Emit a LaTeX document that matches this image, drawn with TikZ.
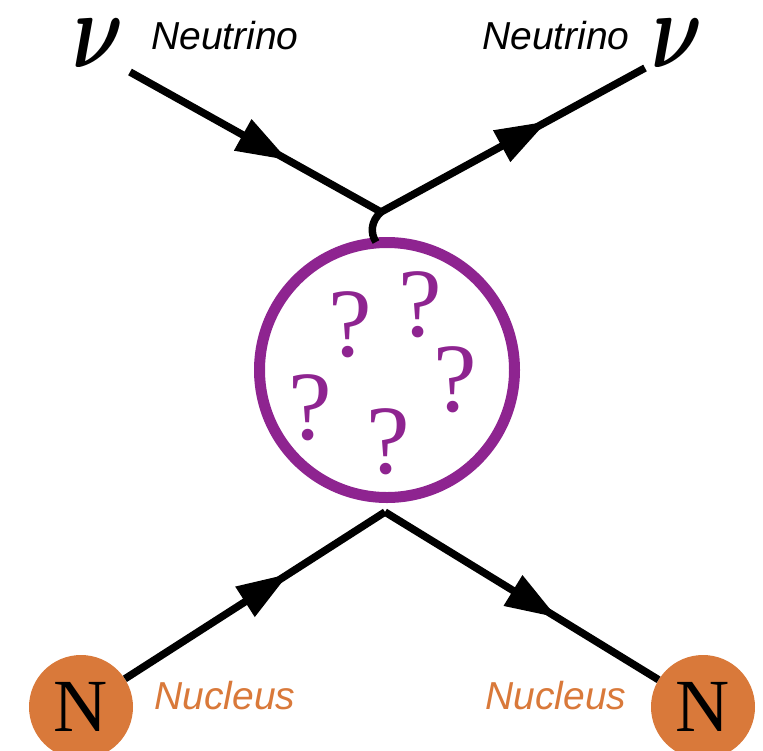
\documentclass[tikz,border=0pt]{standalone}
\usepackage{fontspec}
\usepackage{amsmath}
\usepackage{graphicx}
\setmainfont{Liberation Serif}
\setsansfont{Liberation Sans}
\usetikzlibrary{arrows.meta,decorations.markings}
\definecolor{blobpurple}{RGB}{142,36,144}
\definecolor{nucorange}{RGB}{217,121,58}
\tikzset{
  fermion/.style={line width=7.5pt, postaction={decorate},
    decoration={markings, mark=at position 0.63 with {\arrow{Triangle[length=52pt,width=34pt]}}}},
  plain/.style={line width=7.5pt},
  qmark/.style={text=blobpurple, font=\fontsize{98}{98}\selectfont, inner sep=0pt},
  nucleus/.style={circle, fill=nucorange, minimum size=104pt, inner sep=0pt, font=\fontsize{75}{75}\selectfont},
  lbl/.style={font=\sffamily\itshape\fontsize{39}{39}\selectfont, inner sep=0pt, anchor=base},
  nusym/.style={inner sep=0pt}
}
\newcommand{\bignu}{\scalebox{7.9}[10.9]{$\boldsymbol{\nu}$}}
\begin{document}
\begin{tikzpicture}[x=1pt,y=-1pt]
\useasboundingbox (0,0) rectangle (763,750);
% blob
\node[circle, draw=blobpurple, line width=11pt, minimum size=255pt, inner sep=0pt] (blob) at (387,370) {};
\node[qmark] (q1) at (350,325) {?};
\node[qmark] (q2) at (420,305) {?};
\node[qmark] (q3) at (455,380) {?};
\node[qmark] (q4) at (310,408) {?};
\node[qmark] (q5) at (388,442) {?};
% vertices
\coordinate (vt) at (381,212);
\coordinate (vb) at (385,512);
\coordinate (inl) at (130,72);
\coordinate (outr) at (645,68);
\coordinate (stem) at (376,242);
% nuclei
\node[nucleus] (nl) at (81,707) {N};
\node[nucleus] (nr) at (703,707) {N};
% lines
\draw[fermion] (inl) -- (vt);
\draw[fermion] (vt) -- (outr);
\draw[fermion] (nl) -- (vb);
\draw[fermion] (vb) -- (nr);
\draw[plain] (vt) .. controls (371,221) and (370,233) .. (stem);
% labels
\node[nusym] (nu1) at (98,43) {\bignu};
\node[nusym] (nu2) at (677,43) {\bignu};
\node[lbl] (t1) at (225,49) {Neutrino};
\node[lbl] (t2) at (556,49) {Neutrino};
\node[lbl, text=nucorange] (t3) at (225,709) {Nucleus};
\node[lbl, text=nucorange] (t4) at (556,709) {Nucleus};
\end{tikzpicture}
\end{document}
